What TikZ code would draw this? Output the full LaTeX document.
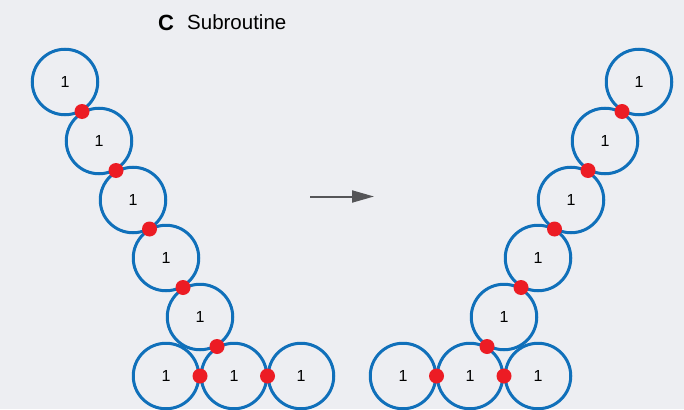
\documentclass[tikz,border=0pt]{standalone}
\usepackage{fontspec}
\setmainfont{Liberation Sans}
\usetikzlibrary{calc,arrows.meta}
\definecolor{bg}{RGB}{237,238,242}
\definecolor{cblue}{RGB}{16,112,186}
\definecolor{dotred}{RGB}{236,28,36}
\definecolor{arrgray}{RGB}{85,85,88}
\tikzset{
  ring/.style={circle,draw=cblue,line width=3pt,minimum size=65.5pt,inner sep=0pt,font=\fontsize{16}{16}\selectfont},
  joint/.style={circle,fill=dotred,minimum size=15pt,inner sep=0pt},
  conv/.style={draw=arrgray,line width=2pt,-{Triangle[length=22pt,width=12pt]}}
}
\begin{document}
\begin{tikzpicture}[x=1pt,y=-1pt]
\fill[bg] (0,0) rectangle (684,409);
\useasboundingbox (0,0) rectangle (684,409);
% title
\node[anchor=base west,inner sep=0pt,font=\fontsize{22}{22}\selectfont\bfseries] (lbl) at (158,31) {C};
\node[anchor=base west,inner sep=0pt,font=\fontsize{20.5}{20.5}\selectfont] (ttl) at (187,30) {Subroutine};
% left chain
\node[ring] (L1) at (65,82) {1};
\node[ring] (L2) at (99,141) {1};
\node[ring] (L3) at (133,200) {1};
\node[ring] (L4) at (166,258) {1};
\node[ring] (L5) at (200,317) {1};
\node[ring] (La) at (166,376) {1};
\node[ring] (Lb) at (234,376) {1};
\node[ring] (Lc) at (301,376) {1};
% right chain
\node[ring] (R1) at (639,82) {1};
\node[ring] (R2) at (605,141) {1};
\node[ring] (R3) at (571,200) {1};
\node[ring] (R4) at (538,258) {1};
\node[ring] (R5) at (504,317) {1};
\node[ring] (Ra) at (403,376) {1};
\node[ring] (Rb) at (470,376) {1};
\node[ring] (Rc) at (538,376) {1};
% joints
\foreach \a/\b in {L1/L2,L2/L3,L3/L4,L4/L5,L5/Lb,La/Lb,Lb/Lc,R1/R2,R2/R3,R3/R4,R4/R5,R5/Rb,Ra/Rb,Rb/Rc}
  \node[joint] (j\a\b) at ($(\a)!0.5!(\b)$) {};
% arrow
\coordinate (as) at (310,196.5);
\coordinate (ae) at (374,196.5);
\draw[conv] (as) -- (ae);
\end{tikzpicture}
\end{document}
